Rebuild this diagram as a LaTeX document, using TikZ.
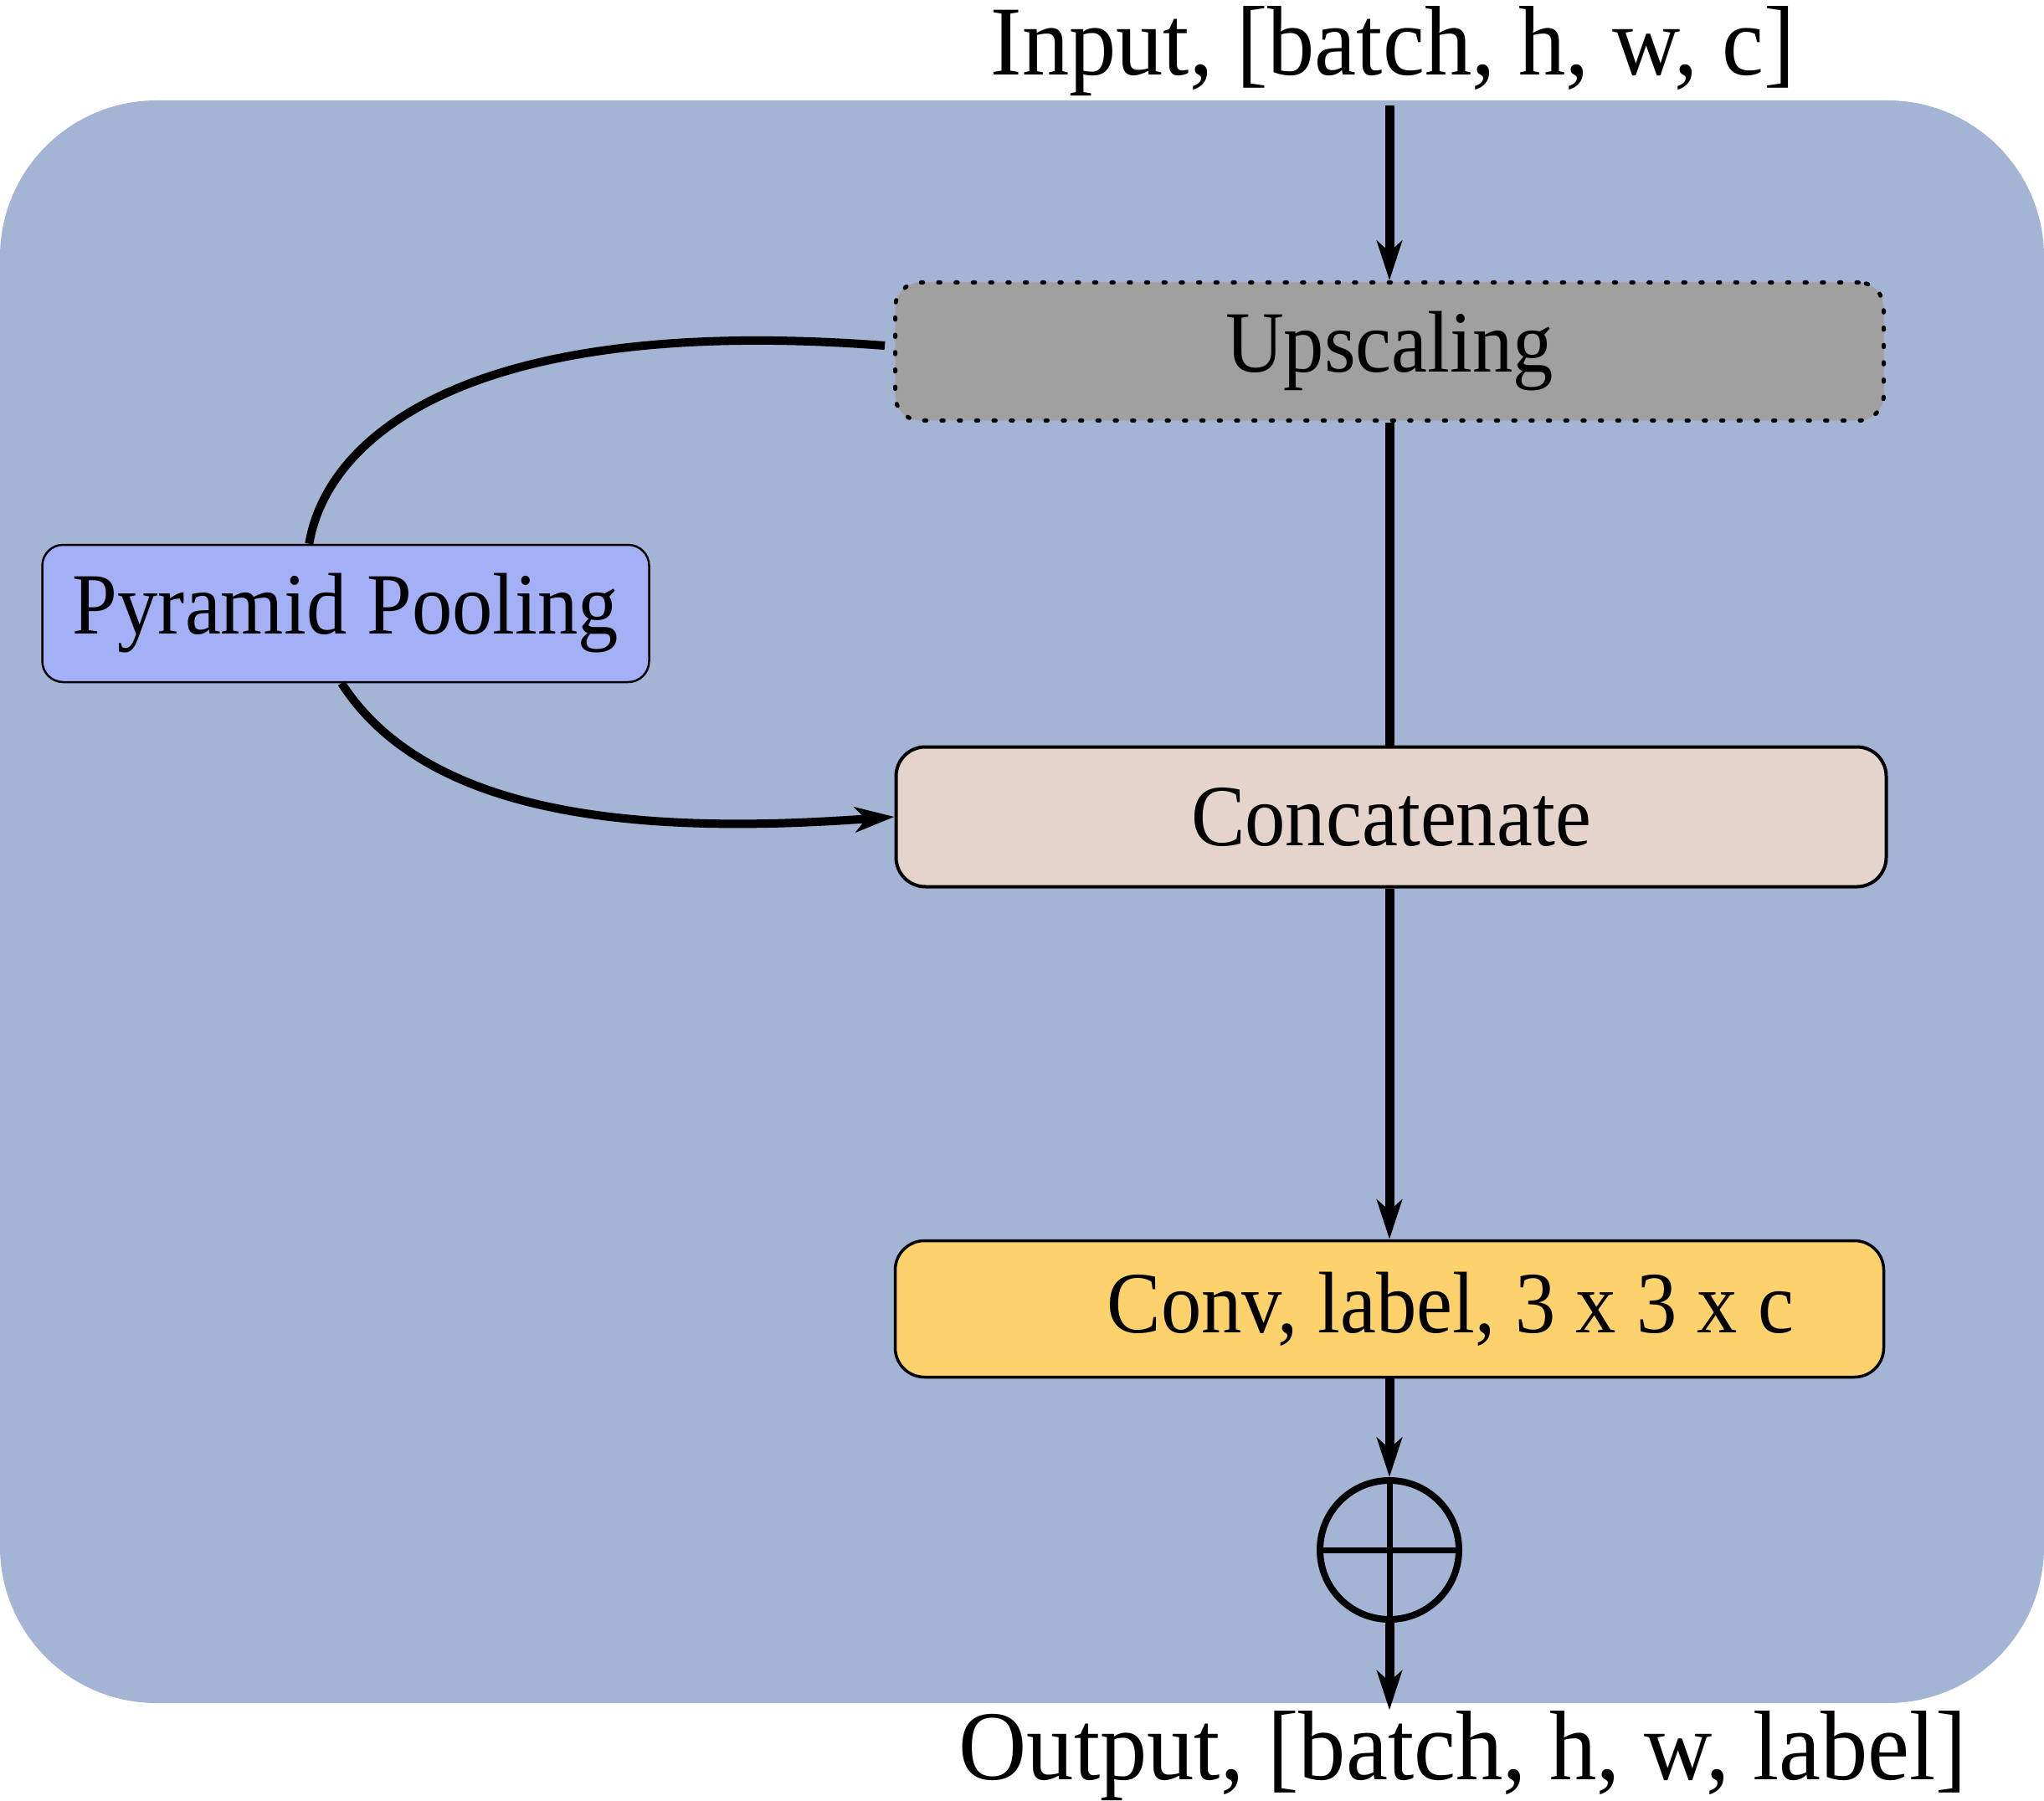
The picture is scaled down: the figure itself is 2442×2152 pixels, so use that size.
\documentclass[tikz,border=0pt]{standalone}
\usepackage{fontspec}
\usepackage{graphicx}
\setmainfont{Liberation Serif}
\usetikzlibrary{arrows.meta,calc}
\definecolor{bgc}{RGB}{164,180,212}
\definecolor{upg}{RGB}{160,160,160}
\definecolor{ppc}{RGB}{163,176,246}
\definecolor{ccc}{RGB}{228,212,204}
\definecolor{cvc}{RGB}{253,210,108}
\newcommand{\bxt}[1]{\scalebox{1}[1.08]{#1}}
\newcommand{\iot}[1]{\scalebox{1}[1.05]{#1}}
\begin{document}
\begin{tikzpicture}[x=0.1mm,y=-0.1mm,
  box/.style={draw, line width=0.4mm, rounded corners=3.5mm, inner sep=0pt, font=\fontsize{27.5}{33}\selectfont},
  conn/.style={line width=1.1mm},
  arr/.style={conn, -{Stealth[length=4.7mm,width=3mm,inset=1.3mm]}},
  curv/.style={line width=1mm},
  io/.style={inner sep=0pt, font=\fontsize{32}{38}\selectfont}
]
\useasboundingbox (0,0) rectangle (2442,2152);
\fill[bgc, rounded corners=18.7mm] (0,120) rectangle (2442,2035);

\node[io, anchor=base] (In) at (1664,90) {\iot{Input, [batch, h, w, c]}};
\node[box, fill=upg, line width=0.5mm, dash pattern=on 0.25mm off 1.82mm, line cap=round, rounded corners=3mm, minimum width=118.1mm, minimum height=16.5mm] (Up) at (1660,420) {\bxt{Upscaling}};
\node[box, fill=ppc, line width=0.25mm, rounded corners=2.5mm, minimum width=72.5mm, minimum height=16.4mm] (PP) at (413,733) {\bxt{Pyramid Pooling}};
\node[box, fill=ccc, minimum width=118.3mm, minimum height=16.7mm] (Cat) at (1662,976) {\bxt{Concatenate}};
\node[box, fill=cvc, line width=0.35mm, minimum width=118.1mm, minimum height=16.3mm] (Conv) at (1660,1564) {\bxt{\hspace*{14.6mm}Conv, label, 3 x 3 x c}};
\node[circle, draw, line width=0.8mm, minimum size=16.6mm, inner sep=0pt] (Sum) at (1660,1852) {};
\node[io, anchor=base] (Out) at (1748,2126) {\iot{Output, [batch, h, w, label]}};

\draw[arr, shorten <=1mm] (Up.north |- In.south) -- (Up.north);
\draw[conn] (Up.south) -- (Up.south |- Cat.north);
\draw[arr] (Up.south |- Cat.south) -- (Conv.north);
\draw[arr] (Conv.south) -- (Sum.north);
\draw[arr] (Sum.south) -- (Sum.south |- Out.north);
\draw[line width=0.7mm] (Sum.north) -- (Sum.south) (Sum.west) -- (Sum.east);

\draw[curv] ($(Up.west)+(-10,-7)$) .. controls (545,374) and (389,530) .. ($(PP.north west)!0.44!(PP.north east)$);
\draw[curv, -{Stealth[length=4.7mm,width=3mm,inset=1.3mm]}] ($(PP.south)+(-5,0)$) .. controls (514,981) and (779,997) .. (Cat.west);
\end{tikzpicture}
\end{document}
